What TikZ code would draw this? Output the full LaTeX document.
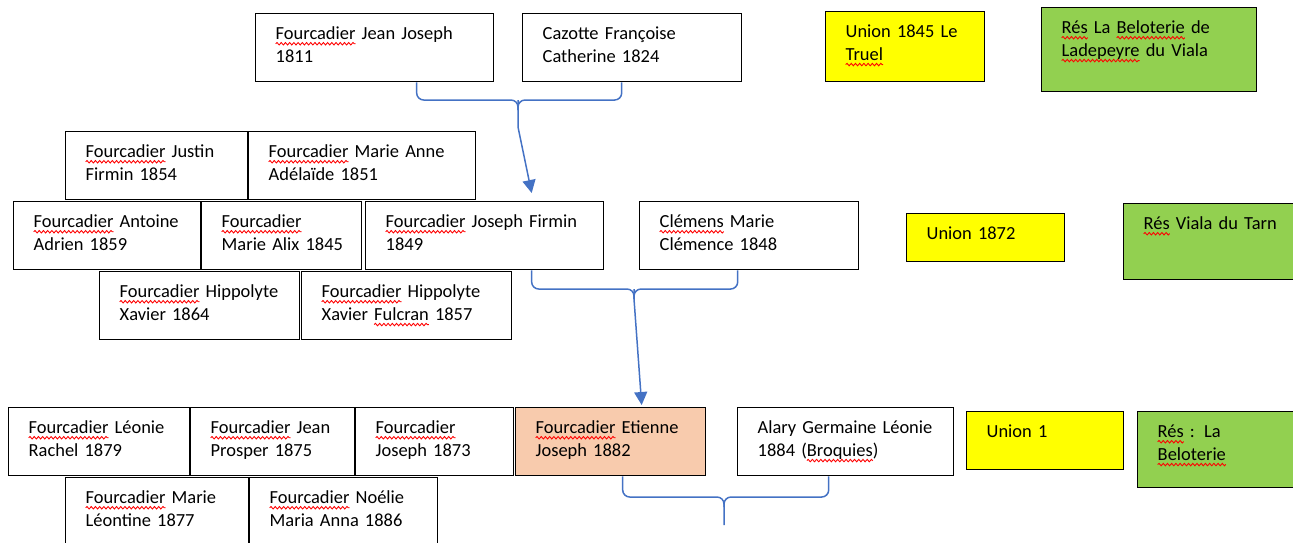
\documentclass[tikz,border=0pt]{standalone}
\usepackage{fontspec}
\setmainfont{Carlito}
\usepackage{xcolor}
\usepackage{tikz}
\usetikzlibrary{arrows.meta,positioning,decorations.pathmorphing}

\definecolor{brkblue}{HTML}{4472C4}
\definecolor{unionyellow}{HTML}{FFFF00}
\definecolor{resgreen}{HTML}{92D050}
\definecolor{focus}{HTML}{F8CBAD}

% red spell-check squiggle under a word
\newdimen\wavylen
\newcommand\wavy[1]{\leavevmode\setbox0\hbox{#1}\wavylen=\wd0\relax
  \rlap{\tikz[baseline=0pt, overlay]\draw[red, line width=0.5pt, decorate,
      decoration={snake, amplitude=0.7pt, segment length=2.4pt}] (0pt,-2.3pt) -- (\wavylen,-2.3pt);}%
  #1}

\begin{document}
\begin{tikzpicture}[x=0.02cm, y=-0.02cm,
    every node/.style={font=\fontsize{10.5pt}{13pt}\selectfont},
    box/.style={draw, fill=white, line width=0.8pt, anchor=north west, align=left,
                inner xsep=0.4cm, inner ysep=0pt, text height=0.52cm, text depth=0.84cm},
    union/.style={box, fill=unionyellow},
    res/.style={box, fill=resgreen},
    me/.style={box, fill=focus},
    brk/.style={brkblue, line width=0.85pt, rounded corners=4pt},
    arr/.style={brkblue, line width=0.85pt, -{Triangle[length=0.26cm, width=0.26cm]}},
  ]
  \useasboundingbox (0,0) rectangle (1293,542);
  \clip (0,0) rectangle (1293,542);

  % parents
  \node[box, text width=3.96cm] (jj)  at (255,13) {\wavy{Fourcadier} Jean Joseph\\1811};
  \node[box, text width=3.58cm] (caz) at (522,13) {Cazotte Françoise\\Catherine 1824};
  \node[union, text width=2.38cm, text depth=0.88cm] (u1845) at (825,11) {Union 1845 Le\\\wavy{Truel}};
  \node[res, text width=3.50cm, text depth=1.16cm] (r1845) at (1041,7) {\wavy{Rés} La \wavy{Beloterie} de\\\wavy{Ladepeyre} du Viala};

  % children of 1845
  \node[box, text width=2.84cm] (justin)  at (65,131)  {\wavy{Fourcadier} Justin\\Firmin 1854};
  \node[box, text width=3.74cm] (mAnne)   at (248,131) {\wavy{Fourcadier} Marie Anne\\Adélaïde 1851};
  \node[box, text width=2.94cm] (antoine) at (13,201)  {\wavy{Fourcadier} Antoine\\Adrien 1859};
  \node[box, text width=2.40cm] (alix)    at (201,201) {\wavy{Fourcadier}\\Marie~Alix~1845};
  \node[box, text width=3.96cm] (jf)      at (365,201) {\wavy{Fourcadier}~Joseph~Firmin\\1849};
  \node[box, text width=3.58cm] (clem)    at (639,201) {\wavy{Clémens} Marie\\Clémence 1848};
  \node[union, text width=2.36cm, text depth=0.44cm] (u1872) at (906,213) {Union 1872};
  \node[res, text width=2.74cm, text depth=1.00cm] (r1872) at (1123,203) {\wavy{Rés} Viala du Tarn};
  \node[box, text width=3.20cm] (hip1) at (99,271)  {\wavy{Fourcadier}~Hippolyte\\Xavier 1864};
  \node[box, text width=3.40cm] (hip2) at (301,271) {\wavy{Fourcadier}~Hippolyte\\Xavier \wavy{Fulcran} 1857};

  % children of 1872
  \node[box, text width=2.82cm] (leonie)  at (8,407)   {\wavy{Fourcadier} Léonie\\Rachel 1879};
  \node[box, text width=2.48cm] (jean)    at (190,407) {\wavy{Fourcadier}~Jean\\Prosper 1875};
  \node[box, text width=2.36cm] (jos73)   at (355,407) {\wavy{Fourcadier}\\Joseph 1873};
  \node[me,  text width=3.00cm] (etienne) at (515,407) {\wavy{Fourcadier}~Etienne\\Joseph 1882};
  \node[box, text width=3.52cm] (alary)   at (737,407) {Alary~Germaine~Léonie\\1884 (\wavy{Broquies})};
  \node[union, text width=2.34cm, text depth=0.64cm] (u1) at (966,411) {Union 1};
  \node[res, text width=2.46cm, text depth=1.00cm] (r1) at (1137,411) {\wavy{Rés} : La\\\wavy{Beloterie}};
  \node[box, text width=2.86cm, text depth=0.94cm] (mLeo)   at (65,477)  {\wavy{Fourcadier} Marie\\Léontine 1877};
  \node[box, text width=2.96cm, text depth=0.94cm] (noelie) at (249,477) {\wavy{Fourcadier} Noélie\\Maria Anna 1886};

  % braces
  \coordinate (k1) at (518,100);
  \coordinate (k2) at (634,289);
  \coordinate (k3) at (724,497);
  \draw[brk] ([xshift=0.84cm]jj.south) |- (k1) -- ++(0,10);
  \draw[brk] ([xshift=-0.21cm]caz.south) |- (k1) -- ++(0,10);
  \draw[arr] (k1) -- ++(0,27) -- ([xshift=0.94cm, yshift=0.16cm]jf.north);
  \draw[brk] ([xshift=0.94cm]jf.south) |- (k2) -- ++(0,10);
  \draw[brk] ([xshift=-0.23cm]clem.south) |- (k2) -- ++(0,10);
  \draw[arr] (k2) -- ++(0,10) -- ([xshift=0.62cm, yshift=0.04cm]etienne.north);
  \draw[brk] ([xshift=0.24cm]etienne.south) |- (k3) -- ++(0,28);
  \draw[brk] ([xshift=-0.34cm]alary.south) |- (k3) -- ++(0,10);
\end{tikzpicture}
\end{document}
